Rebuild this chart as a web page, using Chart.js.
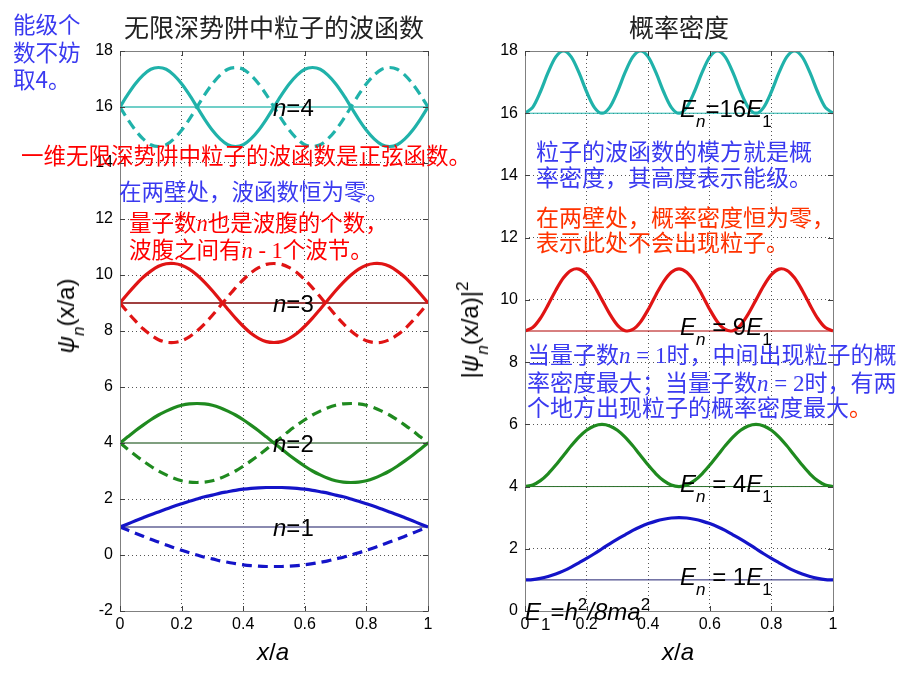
<!DOCTYPE html>
<html>
<head>
<meta charset="utf-8">
<script src="https://cdn.jsdelivr.net/npm/chart.js@4/dist/chart.umd.min.js"></script>
<style>
body { margin: 0; background: #fff; }
#wrap { position: relative; width: 920px; height: 690px; overflow: hidden; font-family: "Liberation Sans", Arial, sans-serif; }
#waveChart { position: absolute; left: 0; top: 0; }
#probChart { position: absolute; left: 460px; top: 0; }
.lbl { position: absolute; white-space: nowrap; line-height: 1; }
.cn { font-family: "Noto Sans CJK SC", sans-serif; font-size: 22.5px; }
.cn2 { font-family: "Noto Sans CJK SC", sans-serif; font-size: 23px; }
.blue { color: #3a3af0; }
.red { color: #ff0000; }
.orange { color: #ff3300; }
.tn { font-family: "Liberation Serif", "Times New Roman", serif; font-style: italic; }
.tr { font-family: "Liberation Serif", "Times New Roman", serif; }
.math { font-size: 24px; color: #000; }
.sb { font-size: 17px; position: relative; top: 10px; }
.sp { font-size: 17px; position: relative; top: -10px; }
.rot { transform: translate(-50%, -50%) rotate(-90deg); }
.ctr { transform: translateX(-50%); }
</style>
</head>
<body>
<div id="wrap">
  <canvas id="waveChart" width="460" height="690"></canvas>
  <canvas id="probChart" width="460" height="690"></canvas>

  <!-- left panel notes -->
  <div class="lbl cn blue" style="left:13px;top:12px">能级个</div>
  <div class="lbl cn blue" style="left:13px;top:40px">数不妨</div>
  <div class="lbl cn blue" style="left:13px;top:67px">取4。</div>
  <div class="lbl cn red" style="left:21px;top:143px">一维无限深势阱中粒子的波函数是正弦函数。</div>
  <div class="lbl cn blue" style="left:119px;top:179px">在两壁处，波函数恒为零。</div>
  <div class="lbl cn red" style="left:129px;top:210px">量子数<span class="tn">n</span>也是波腹的个数，</div>
  <div class="lbl cn red" style="left:129px;top:237px">波腹之间有<span class="tn">n</span><span class="tr"> - 1</span>个波节。</div>

  <div class="lbl math" style="left:273px;top:96px"><i>n</i>=4</div>
  <div class="lbl math" style="left:273px;top:292px"><i>n</i>=3</div>
  <div class="lbl math" style="left:273px;top:432px"><i>n</i>=2</div>
  <div class="lbl math" style="left:273px;top:516px"><i>n</i>=1</div>

  <div class="lbl math rot" style="left:66px;top:316px"><i>ψ</i><span class="sb"><i>n</i></span>(x/a)</div>
  <div class="lbl math ctr" style="left:273px;top:640px"><i>x</i>/<i>a</i></div>

  <!-- right panel notes -->
  <div class="lbl cn2 blue" style="left:536px;top:139px">粒子的波函数的模方就是概</div>
  <div class="lbl cn2 blue" style="left:536px;top:165px">率密度，其高度表示能级。</div>
  <div class="lbl cn2 orange" style="left:536px;top:205px">在两壁处，概率密度恒为零，</div>
  <div class="lbl cn2 orange" style="left:536px;top:230px">表示此处不会出现粒子。</div>
  <div class="lbl cn2 blue" style="left:527px;top:342px">当量子数<span class="tn">n</span><span class="tr"> = 1</span>时，中间出现粒子的概</div>
  <div class="lbl cn2 blue" style="left:527px;top:370px">率密度最大；当量子数<span class="tn">n</span><span class="tr"> = 2</span>时，有两</div>
  <div class="lbl cn2 blue" style="left:527px;top:395px">个地方出现粒子的概率密度最大<span class="orange">。</span></div>

  <div class="lbl math" style="left:680px;top:97px"><i>E</i><span class="sb"><i>n</i></span>=16<i>E</i><span class="sb">1</span></div>
  <div class="lbl math" style="left:680px;top:315px"><i>E</i><span class="sb"><i>n</i></span> = 9<i>E</i><span class="sb">1</span></div>
  <div class="lbl math" style="left:680px;top:472px"><i>E</i><span class="sb"><i>n</i></span> = 4<i>E</i><span class="sb">1</span></div>
  <div class="lbl math" style="left:680px;top:565px"><i>E</i><span class="sb"><i>n</i></span> = 1<i>E</i><span class="sb">1</span></div>
  <div class="lbl math" style="left:525px;top:600px"><i>E</i><span class="sb">1</span>=<i>h</i><span class="sp">2</span><i>/8ma</i><span class="sp">2</span></div>

  <div class="lbl math rot" style="left:470px;top:330px">|<i>ψ</i><span class="sb"><i>n</i></span>(x/a)|<span class="sp">2</span></div>
  <div class="lbl math ctr" style="left:678px;top:640px"><i>x</i>/<i>a</i></div>
</div>

<script>
// x/a sample positions
const xs = [0, 0.025, 0.05, 0.075, 0.1, 0.125, 0.15, 0.175, 0.2, 0.225, 0.25, 0.275, 0.3, 0.325, 0.35, 0.375, 0.4, 0.425, 0.45, 0.475, 0.5,
  0.525, 0.55, 0.575, 0.6, 0.625, 0.65, 0.675, 0.7, 0.725, 0.75, 0.775, 0.8, 0.825, 0.85, 0.875, 0.9, 0.925, 0.95, 0.975, 1];

// energy levels (offsets)
const levels = [1, 4, 9, 16];

// left: wave functions, solid and dashed
const psi1Solid = [1.00, 1.11, 1.22, 1.33, 1.44, 1.54, 1.64, 1.74, 1.83, 1.92, 2.00, 2.08, 2.14, 2.21, 2.26, 2.31, 2.35, 2.38, 2.40, 2.41, 2.41,
  2.41, 2.40, 2.38, 2.35, 2.31, 2.26, 2.21, 2.14, 2.08, 2.00, 1.92, 1.83, 1.74, 1.64, 1.54, 1.44, 1.33, 1.22, 1.11, 1.00];
const psi1Dash = [1.00, 0.89, 0.78, 0.67, 0.56, 0.46, 0.36, 0.26, 0.17, 0.08, 0.00, -0.08, -0.14, -0.21, -0.26, -0.31, -0.35, -0.38, -0.40, -0.41, -0.41,
  -0.41, -0.40, -0.38, -0.35, -0.31, -0.26, -0.21, -0.14, -0.08, 0.00, 0.08, 0.17, 0.26, 0.36, 0.46, 0.56, 0.67, 0.78, 0.89, 1.00];
const psi2Solid = [4.00, 4.22, 4.44, 4.64, 4.83, 5.00, 5.14, 5.26, 5.35, 5.40, 5.41, 5.40, 5.35, 5.26, 5.14, 5.00, 4.83, 4.64, 4.44, 4.22, 4.00,
  3.78, 3.56, 3.36, 3.17, 3.00, 2.86, 2.74, 2.65, 2.60, 2.59, 2.60, 2.65, 2.74, 2.86, 3.00, 3.17, 3.36, 3.56, 3.78, 4.00];
const psi2Dash = [4.00, 3.78, 3.56, 3.36, 3.17, 3.00, 2.86, 2.74, 2.65, 2.60, 2.59, 2.60, 2.65, 2.74, 2.86, 3.00, 3.17, 3.36, 3.56, 3.78, 4.00,
  4.22, 4.44, 4.64, 4.83, 5.00, 5.14, 5.26, 5.35, 5.40, 5.41, 5.40, 5.35, 5.26, 5.14, 5.00, 4.83, 4.64, 4.44, 4.22, 4.00];
const psi3Solid = [9.00, 9.33, 9.64, 9.92, 10.14, 10.31, 10.40, 10.41, 10.35, 10.21, 10.00, 9.74, 9.44, 9.11, 8.78, 8.46, 8.17, 7.92, 7.74, 7.62, 7.59,
  7.62, 7.74, 7.92, 8.17, 8.46, 8.78, 9.11, 9.44, 9.74, 10.00, 10.21, 10.35, 10.41, 10.40, 10.31, 10.14, 9.92, 9.64, 9.33, 9.00];
const psi3Dash = [9.00, 8.67, 8.36, 8.08, 7.86, 7.69, 7.60, 7.59, 7.65, 7.79, 8.00, 8.26, 8.56, 8.89, 9.22, 9.54, 9.83, 10.08, 10.26, 10.38, 10.41,
  10.38, 10.26, 10.08, 9.83, 9.54, 9.22, 8.89, 8.56, 8.26, 8.00, 7.79, 7.65, 7.59, 7.60, 7.69, 7.86, 8.08, 8.36, 8.67, 9.00];
const psi4Solid = [16.00, 16.44, 16.83, 17.14, 17.35, 17.41, 17.35, 17.14, 16.83, 16.44, 16.00, 15.56, 15.17, 14.86, 14.65, 14.59, 14.65, 14.86, 15.17, 15.56, 16.00,
  16.44, 16.83, 17.14, 17.35, 17.41, 17.35, 17.14, 16.83, 16.44, 16.00, 15.56, 15.17, 14.86, 14.65, 14.59, 14.65, 14.86, 15.17, 15.56, 16.00];
const psi4Dash = [16.00, 15.56, 15.17, 14.86, 14.65, 14.59, 14.65, 14.86, 15.17, 15.56, 16.00, 16.44, 16.83, 17.14, 17.35, 17.41, 17.35, 17.14, 16.83, 16.44, 16.00,
  15.56, 15.17, 14.86, 14.65, 14.59, 14.65, 14.86, 15.17, 15.56, 16.00, 16.44, 16.83, 17.14, 17.35, 17.41, 17.35, 17.14, 16.83, 16.44, 16.00];

// right: probability density
const prob1 = [1.00, 1.01, 1.05, 1.11, 1.19, 1.29, 1.41, 1.55, 1.69, 1.84, 2.00, 2.16, 2.31, 2.45, 2.59, 2.71, 2.81, 2.89, 2.95, 2.99, 3.00,
  2.99, 2.95, 2.89, 2.81, 2.71, 2.59, 2.45, 2.31, 2.16, 2.00, 1.84, 1.69, 1.55, 1.41, 1.29, 1.19, 1.11, 1.05, 1.01, 1.00];
const prob2 = [4.00, 4.05, 4.19, 4.41, 4.69, 5.00, 5.31, 5.59, 5.81, 5.95, 6.00, 5.95, 5.81, 5.59, 5.31, 5.00, 4.69, 4.41, 4.19, 4.05, 4.00,
  4.05, 4.19, 4.41, 4.69, 5.00, 5.31, 5.59, 5.81, 5.95, 6.00, 5.95, 5.81, 5.59, 5.31, 5.00, 4.69, 4.41, 4.19, 4.05, 4.00];
const prob3 = [9.00, 9.11, 9.41, 9.84, 10.31, 10.71, 10.95, 10.99, 10.81, 10.45, 10.00, 9.55, 9.19, 9.01, 9.05, 9.29, 9.69, 10.16, 10.59, 10.89, 11.00,
  10.89, 10.59, 10.16, 9.69, 9.29, 9.05, 9.01, 9.19, 9.55, 10.00, 10.45, 10.81, 10.99, 10.95, 10.71, 10.31, 9.84, 9.41, 9.11, 9.00];
const prob4 = [16.00, 16.19, 16.69, 17.31, 17.81, 18.00, 17.81, 17.31, 16.69, 16.19, 16.00, 16.19, 16.69, 17.31, 17.81, 18.00, 17.81, 17.31, 16.69, 16.19, 16.00,
  16.19, 16.69, 17.31, 17.81, 18.00, 17.81, 17.31, 16.69, 16.19, 16.00, 16.19, 16.69, 17.31, 17.81, 18.00, 17.81, 17.31, 16.69, 16.19, 16.00];

const curveColors = ['#1414c8', '#1f8a1f', '#e01414', '#20b2aa'];
const waveBaseColors = ['#8a8ab0', '#7f9f7f', '#a04040', '#70cfc8'];
const probBaseColors = ['#202070', '#2a702a', '#b00000', '#20b2aa'];

Chart.defaults.font.family = '"Liberation Sans", Arial, sans-serif';

let pts = (arr) => xs.map((x, i) => ({ x: x, y: arr[i] }));
let flat = (lv) => [{ x: 0, y: lv }, { x: 1, y: lv }];

let curve = (arr, color, dashed) => ({
  data: pts(arr),
  borderColor: color,
  borderWidth: 3.2,
  borderDash: dashed ? [10, 6] : [],
  pointRadius: 0,
  tension: 0.3,
  fill: false
});

let baseLine = (lv, color, w) => ({
  data: flat(lv),
  borderColor: color,
  borderWidth: w,
  pointRadius: 0,
  fill: false
});

// gray box round the plot plus short inward ticks, matlab style
const framePlugin = {
  id: 'frame',
  afterDraw(chart) {
    const { ctx, chartArea: a, scales } = chart;
    ctx.save();
    ctx.strokeStyle = '#808080';
    ctx.lineWidth = 1;
    ctx.strokeRect(Math.round(a.left) + 0.5, Math.round(a.top) + 0.5, Math.round(a.width), Math.round(a.height));
    ctx.strokeStyle = '#404040';
    ctx.beginPath();
    scales.y.ticks.forEach((t) => {
      let py = Math.round(scales.y.getPixelForValue(t.value)) + 0.5;
      ctx.moveTo(a.left, py); ctx.lineTo(a.left + 5, py);
      ctx.moveTo(a.right, py); ctx.lineTo(a.right - 5, py);
    });
    scales.x.ticks.forEach((t) => {
      let px = Math.round(scales.x.getPixelForValue(t.value)) + 0.5;
      ctx.moveTo(px, a.bottom); ctx.lineTo(px, a.bottom - 5);
      ctx.moveTo(px, a.top); ctx.lineTo(px, a.top + 5);
    });
    ctx.stroke();
    ctx.restore();
  }
};

let makeOptions = (title, ymin, ymax, yWidth, padRight) => ({
  responsive: false,
  animation: false,
  events: [],
  layout: { padding: { left: 0, right: padRight, top: 0, bottom: 0 } },
  plugins: {
    legend: { display: false },
    tooltip: { enabled: false },
    title: {
      display: true,
      text: title,
      fullSize: false,
      color: '#222',
      font: { family: '"Noto Sans CJK SC", sans-serif', size: 25, weight: 'normal' },
      padding: { top: 12, bottom: 9 }
    }
  },
  scales: {
    x: {
      type: 'linear',
      min: 0,
      max: 1,
      ticks: {
        stepSize: 0.2, color: '#000', font: { size: 16 }, padding: 4, maxRotation: 0,
        callback: (v) => String(Math.round(v * 10) / 10)
      },
      grid: { color: '#555', lineWidth: 1, drawTicks: false },
      border: { display: false, dash: [1, 3] },
      afterFit: (s) => { s.height = 79; }
    },
    y: {
      min: ymin,
      max: ymax,
      ticks: { stepSize: 2, color: '#000', font: { size: 16 }, padding: 7 },
      grid: { color: '#555', lineWidth: 1, drawTicks: false },
      border: { display: false, dash: [1, 3] },
      afterFit: (s) => { s.width = yWidth; }
    }
  }
});

// left chart: wave functions
const waveSolid = [psi1Solid, psi2Solid, psi3Solid, psi4Solid];
const waveDash = [psi1Dash, psi2Dash, psi3Dash, psi4Dash];
let waveSets = [];
waveSolid.forEach((arr, i) => waveSets.push(curve(arr, curveColors[i], false)));
waveDash.forEach((arr, i) => waveSets.push(curve(arr, curveColors[i], true)));
levels.forEach((lv, i) => waveSets.push(baseLine(lv, waveBaseColors[i], 2)));

new Chart(document.getElementById('waveChart'), {
  type: 'line',
  data: { datasets: waveSets },
  options: makeOptions('无限深势阱中粒子的波函数', -2, 18, 120, 32),
  plugins: [framePlugin]
});

// right chart: probability density
const probs = [prob1, prob2, prob3, prob4];
let probSets = [];
probs.forEach((arr, i) => probSets.push(curve(arr, curveColors[i], false)));
levels.forEach((lv, i) => probSets.push(baseLine(lv, probBaseColors[i], 1)));

new Chart(document.getElementById('probChart'), {
  type: 'line',
  data: { datasets: probSets },
  options: makeOptions('概率密度', 0, 18, 65, 87),
  plugins: [framePlugin]
});
</script>
</body>
</html>
